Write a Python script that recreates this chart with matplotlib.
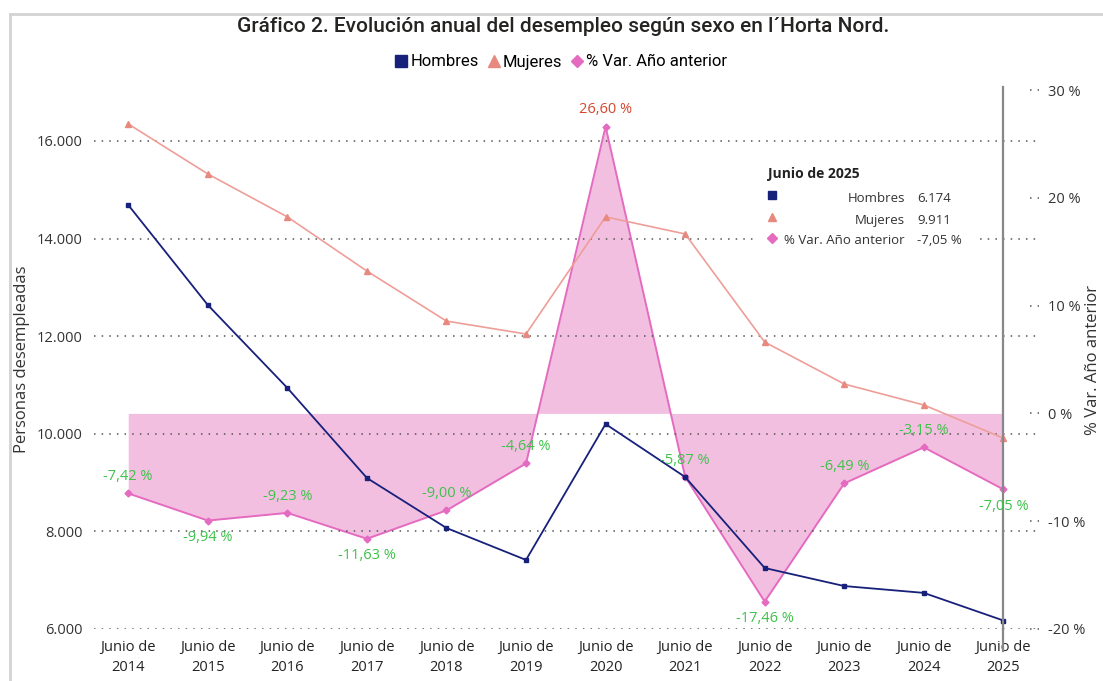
import matplotlib
matplotlib.use("Agg")
import matplotlib.pyplot as plt
import matplotlib.transforms as mtransforms
from matplotlib.lines import Line2D
from matplotlib.patches import Rectangle
import numpy as np

plt.rcParams['font.family'] = ['Open Sans', 'DejaVu Sans']

years = ["2014", "2015", "2016", "2017", "2018", "2019", "2020", "2021", "2022", "2023", "2024", "2025"]
categories = ["Junio de\n" + y for y in years]
hombres = [14690, 12640, 10940, 9095, 8070, 7415, 10200, 9115, 7250, 6880, 6740, 6174]
mujeres = [16350, 15325, 14445, 13335, 12310, 12045, 14445, 14095, 11880, 11020, 10590, 9911]
var_pct = [-7.42, -9.94, -9.23, -11.63, -9.00, -4.64, 26.60, -5.87, -17.46, -6.49, -3.15, -7.05]
label_above = [True, False, True, False, True, True, True, True, False, True, True, False]

c_h = "#17207A"
c_m = "#EE9E98"
c_m_mk = "#E8897F"
c_v = "#E46BC0"
c_fill = "#F3BFE1"
c_green = "#3DC24A"
c_red = "#D6452E"

W, H = 1103, 681
fig = plt.figure(figsize=(W / 100, H / 100), dpi=100)
fig.patch.set_facecolor("white")

# outer border
fig.add_artist(Line2D([10 / W, 1.0], [1 - 14 / H, 1 - 14 / H], color="#D3D3D3", lw=2))
fig.add_artist(Line2D([10 / W, 10 / W], [0, 1 - 14 / H], color="#D3D3D3", lw=2))

left, right, bottom, top = 94 / W, 1036 / W, 1 - 629 / H, 1 - 90 / H
ax = fig.add_axes([left, bottom, right - left, top - bottom])
ax2 = ax.twinx()

x = np.arange(len(years))
ax.set_xlim(-0.43, len(years) - 1 + 0.41)
ax.set_ylim(6000, 17045)
ax2.set_ylim(-20, 30)

# area + line for % var on secondary axis (drawn behind)
ax2.fill_between(x, var_pct, 0, color=c_fill, interpolate=True, zorder=1, lw=0)
ax2.plot(x, var_pct, color=c_v, lw=1.4, marker="D", ms=3.5, zorder=2)

# put primary axis on top of secondary
ax.set_zorder(ax2.get_zorder() + 1)
ax.patch.set_visible(False)

ax.plot(x, hombres, color=c_h, lw=1.3, marker="s", ms=3.5, zorder=3)
ax.plot(x, mujeres, color=c_m, lw=1.2, marker="^", ms=4.5, mfc=c_m_mk, mec=c_m_mk, zorder=3)

# gridlines (dotted) on left axis
yt = [6000, 8000, 10000, 12000, 14000, 16000]
ax.set_yticks(yt)
ax.set_yticklabels([f"{v:,}".replace(",", ".") for v in yt], fontsize=10.5, color="#333333")
for v in yt:
    ax.axhline(v, color="#555555", lw=1.1, ls=(0, (1, 4)), zorder=0)

ax.set_xticks(x)
ax.set_xticklabels(categories, fontsize=10.5, color="#222222", linespacing=1.4)
ax.tick_params(axis="both", length=0, pad=8)
ax.set_ylabel("Personas desempleadas", fontsize=12, color="#333333", labelpad=5)

for s in ax.spines.values():
    s.set_visible(False)
for s in ax2.spines.values():
    s.set_visible(False)

# right axis
rt = [-20, -10, 0, 10, 20, 30]
ax2.set_yticks(rt)
ax2.set_yticklabels([f"{v} %" for v in rt], fontsize=10.5, color="#333333")
ax2.tick_params(axis="y", length=0, pad=9)
trans = mtransforms.blended_transform_factory(ax2.transAxes, ax2.transData)
for v in rt:
    ax2.plot([0.9935, 1.003], [v, v], transform=trans, color="#555555", lw=1.1,
             ls=(0, (1, 4)), clip_on=False)
fig.text(1093 / W, 1 - 360 / H, "% Var. Año anterior", rotation=90, fontsize=12,
         color="#333333", ha="center", va="center")

# data labels for % var (drawn on the top axes, positioned in secondary data coords)
for xi, v, above in zip(x, var_pct, label_above):
    col = c_red if v > 0 else c_green
    txt = f"{v:.2f}".replace(".", ",") + " %"
    off = 12 if above else -12
    ax.annotate(txt, (xi, v), xycoords=ax2.transData, xytext=(0, off), textcoords="offset points",
                ha="center", va="center", fontsize=10.5, color=col, zorder=6)

# hover vertical line
ax.axvline(x[-1], color="#888888", lw=1.6, ymin=0, ymax=1.005, zorder=4, clip_on=False)
ax.plot([x[-1], x[-1]], [6000, 5550], color="#888888", lw=1.6, clip_on=False, zorder=4)

# tooltip box (white background covering gridlines)
fig.add_artist(Rectangle((755 / W, 1 - 256 / H), (978 - 755) / W, (256 - 158) / H,
                         transform=fig.transFigure, facecolor="white", edgecolor="none", zorder=2))
fig.text(768 / W, 1 - 174 / H, "Junio de 2025", fontsize=10, fontweight="bold", color="#222222",
         va="center", zorder=3)
rows = [("Hombres", "6.174", "s", c_h, 198), ("Mujeres", "9.911", "^", c_m_mk, 220),
        ("% Var. Año anterior", "-7,05 %", "D", c_v, 241)]
for lab, val, mk, col, yy in rows:
    fy = 1 - yy / H
    fig.add_artist(Line2D([772 / W], [fy + 0.005], marker=mk, color=col,
                          ms=6 if mk != "D" else 5, ls="none", zorder=3))
    fig.text(905 / W, fy, lab, fontsize=9.5, color="#333333", ha="right", va="center", zorder=3)
    fig.text(917 / W, fy, val, fontsize=9.5, color="#333333", ha="left", va="center", zorder=3)

# title
fig.text(563 / W, 1 - 27 / H, "Gráfico 2. Evolución anual del desempleo según sexo en l´Horta Nord.",
         fontsize=15, fontweight="medium", color="#252423", ha="center", va="center",
         family=["Roboto", "DejaVu Sans"])

# legend
handles = [Line2D([], [], marker="s", color=c_h, ls="none", ms=8),
           Line2D([], [], marker="^", color=c_m_mk, ls="none", ms=8),
           Line2D([], [], marker="D", color=c_v, ls="none", ms=6)]
fig.legend(handles, ["Hombres", "Mujeres", "% Var. Año anterior"], loc="center",
           bbox_to_anchor=(560 / W, 1 - 62 / H), ncol=3, frameon=False,
           handletextpad=0.05, columnspacing=0.4, handlelength=1.0,
           prop={"family": ["Roboto", "DejaVu Sans"], "size": 12})

fig.savefig("out.png", dpi=100, facecolor="white")
